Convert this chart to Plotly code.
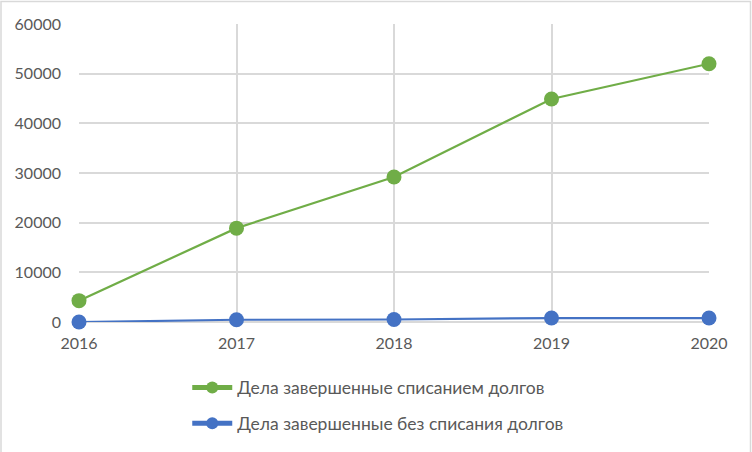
import plotly.graph_objects as go

years = ["2016", "2017", "2018", "2019", "2020"]
with_writeoff = [4300, 18900, 29200, 44900, 52000]
without_writeoff = [0, 450, 500, 800, 800]
y_ticks = [0, 10000, 20000, 30000, 40000, 50000, 60000]

W, H = 752, 452
ml, mr, mt, mb = 79, 43, 24, 130
pw, ph = W - ml - mr, H - mt - mb

font = "Lato, 'Open Sans', sans-serif"
grey_txt = "#595959"
grid = "#D9D9D9"

fig = go.Figure()
fig.add_trace(go.Scatter(
    x=years, y=with_writeoff, name="Дела завершенные списанием долгов",
    mode="lines+markers", line=dict(color="#70AD47", width=2.2),
    marker=dict(size=15, color="#70AD47"), cliponaxis=False, legendgroup="a",
))
fig.add_trace(go.Scatter(
    x=years, y=without_writeoff, name="Дела завершенные без списания долгов",
    mode="lines+markers", line=dict(color="#4472C4", width=2.2),
    marker=dict(size=15, color="#4472C4"), cliponaxis=False, legendgroup="b",
))

# outer chart border (Excel chart area)
fig.add_shape(
    type="rect", xref="paper", yref="paper",
    x0=(1 - ml) / pw, x1=(W - 1.5 - ml) / pw,
    y0=(mb - (H - 1.5)) / ph, y1=(H - 1.5 - mb) / ph,
    line=dict(color="#D9D9D9", width=1.5),
)

fig.update_layout(
    width=W, height=H,
    margin=dict(l=ml, r=mr, t=mt, b=mb, autoexpand=False),
    paper_bgcolor="white", plot_bgcolor="white",
    font=dict(family=font, color=grey_txt, size=16),
    showlegend=True,
    legend=dict(
        orientation="v", x=0.475, xanchor="center", y=-0.16, yanchor="top",
        font=dict(size=17.5, color=grey_txt), tracegroupgap=10,
        itemwidth=40, itemsizing="constant",
    ),
    xaxis=dict(
        type="category", range=[0, 4], showgrid=True, gridcolor=grid, gridwidth=1.5,
        zeroline=False, showline=False, ticks="", ticklabelstandoff=10,
        automargin=False, tickfont=dict(size=16, color=grey_txt),
    ),
    yaxis=dict(
        range=[0, 60000], tickvals=y_ticks, tickformat="d", showgrid=True,
        gridcolor=grid, gridwidth=1.5, zeroline=True, zerolinecolor=grid,
        zerolinewidth=1.5, showline=False, ticks="", ticklabelstandoff=17,
        automargin=False, tickfont=dict(size=16, color=grey_txt),
    ),
)

fig.write_html("out.html", config={"displayModeBar": False},
               post_script="document.body.style.margin='0';")
